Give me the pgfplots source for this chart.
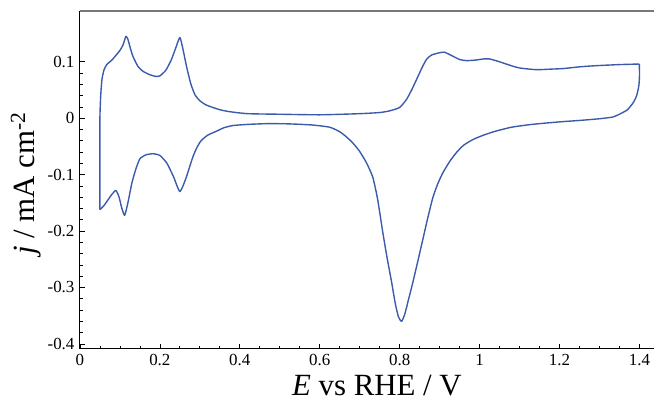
\documentclass[border=0pt]{standalone}
\usepackage{fontspec}
\setmainfont{Liberation Serif}
\usepackage{pgfplots}
\pgfplotsset{compat=1.18}
\definecolor{cvblue}{HTML}{3B5BAA}
\definecolor{topgrey}{HTML}{777777}

\begin{document}
\begin{tikzpicture}
\begin{axis}[
  scale only axis,width=575bp,height=338bp,
  xmin=0,xmax=1.4375,ymin=-0.4085,ymax=0.19,
  axis x line*=bottom,axis y line*=left,
  axis line style={black,line width=0.9pt},
  tick align=inside,
  major tick length=5bp,minor tick length=3bp,
  tick style={black,line width=0.7pt},
  xtick={0,0.2,...,1.4},minor x tick num=3,
  ytick={-0.4,-0.3,-0.2,-0.1,0,0.1},minor y tick num=4,
  /pgf/number format/assume math mode=true,
  /pgf/number format/fixed,
  ticklabel style={font=\fontsize{17}{19}\selectfont},
  xticklabel style={yshift=-2bp},
  yticklabel style={xshift=-2bp},
  xlabel={\textit{E} vs RHE / V},
  ylabel={\textit{j} / mA cm\textsuperscript{-2}},
  every axis x label/.style={at={(axis description cs:0.517,0)},anchor=north,
    inner sep=0pt,yshift=-26bp,font=\fontsize{31}{34}\selectfont},
  every axis y label/.style={at={(axis description cs:-0.068,0.49)},anchor=south,
    rotate=90,inner sep=0pt,font=\fontsize{31}{34}\selectfont},
  clip=false,
]
\addplot[cvblue,line width=1.4pt,line join=round,smooth,tension=0.35] coordinates {
(0.05,-0.162) (0.05,-0.08) (0.05,0.0) (0.052,0.04) (0.055,0.068) (0.06,0.085) (0.067,0.095)
(0.08,0.103) (0.092,0.113) (0.1,0.12) (0.108,0.13) (0.115,0.145) (0.12,0.14)
(0.127,0.122) (0.133,0.109) (0.145,0.092) (0.158,0.083) (0.175,0.077) (0.19,0.074)
(0.2,0.075) (0.215,0.085) (0.229,0.104) (0.24,0.125) (0.25,0.143) (0.257,0.125)
(0.267,0.091) (0.277,0.062) (0.2875,0.042) (0.3,0.031) (0.317,0.023) (0.35,0.015)
(0.375,0.0115) (0.42,0.008) (0.5,0.007) (0.6,0.006) (0.7,0.008) (0.75,0.01)
(0.775,0.013) (0.8,0.019) (0.817,0.033) (0.83,0.05) (0.842,0.068) (0.855,0.088)
(0.867,0.104) (0.88,0.112) (0.9,0.116) (0.912,0.117) (0.93,0.111) (0.95,0.104)
(0.967,0.102) (0.99,0.103) (1.01,0.105) (1.025,0.105) (1.05,0.1) (1.075,0.094)
(1.1,0.089) (1.142,0.086) (1.18,0.087) (1.21,0.088) (1.25,0.091) (1.29,0.093)
(1.35,0.095) (1.4,0.096)
};
\addplot[cvblue,line width=1.4pt,line join=round,smooth,tension=0.35] coordinates {
(1.4,0.096) (1.4,0.07) (1.398,0.055) (1.393,0.04) (1.385,0.028) (1.37,0.015) (1.35,0.007)
(1.333,0.002) (1.3,-0.001) (1.25,-0.004) (1.21,-0.006) (1.16,-0.009) (1.125,-0.0115)
(1.08,-0.016) (1.04,-0.023) (1.01,-0.03) (0.983,-0.038) (0.96,-0.048) (0.942,-0.061)
(0.925,-0.077) (0.908,-0.097) (0.895,-0.117) (0.883,-0.141) (0.87,-0.178) (0.858,-0.215)
(0.845,-0.255) (0.833,-0.291) (0.822,-0.322) (0.813,-0.347) (0.805,-0.36) (0.797,-0.352)
(0.789,-0.328) (0.78,-0.291) (0.768,-0.245) (0.758,-0.203) (0.745,-0.144) (0.733,-0.105)
(0.717,-0.079) (0.7,-0.059) (0.683,-0.044) (0.665,-0.032) (0.65,-0.024) (0.625,-0.016)
(0.58,-0.012) (0.52,-0.01) (0.467,-0.0097) (0.42,-0.011) (0.383,-0.013) (0.36,-0.017)
(0.342,-0.023) (0.32,-0.03) (0.303,-0.04) (0.292,-0.053) (0.283,-0.068) (0.275,-0.085)
(0.267,-0.103) (0.258,-0.12) (0.25,-0.13) (0.243,-0.12) (0.235,-0.105) (0.225,-0.09)
(0.217,-0.079) (0.2,-0.066) (0.183,-0.063) (0.165,-0.065) (0.15,-0.072) (0.14,-0.09)
(0.13,-0.115) (0.12,-0.15) (0.112,-0.172) (0.105,-0.16) (0.098,-0.14) (0.09,-0.128)
(0.08,-0.135) (0.07,-0.145) (0.06,-0.155) (0.05,-0.162)
};
\draw[topgrey,line width=1.2pt] (rel axis cs:0,1) -- (rel axis cs:1,1);
\coordinate (tl) at (rel axis cs:0,1);
\coordinate (br) at (rel axis cs:1,0);
\end{axis}
\path ([shift={(-80bp,11bp)}]tl) rectangle ([shift={(0,-54bp)}]br);
\end{tikzpicture}
\end{document}
